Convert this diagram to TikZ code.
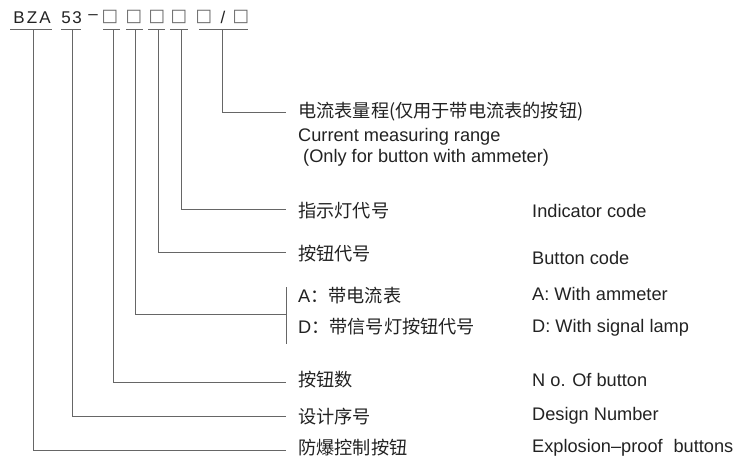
\documentclass[tikz,border=0pt]{standalone}
\usepackage{fontspec}
\setmainfont{Liberation Sans}
\newfontfamily\cjk{Noto Sans CJK SC}
\newfontfamily\dvsym{DejaVu Sans}
\definecolor{lncol}{HTML}{666666}
\definecolor{txt}{HTML}{222222}
\begin{document}
\begin{tikzpicture}[x=1pt,y=-1pt,
  ln/.style={draw=lncol, line width=0.8pt},
  cn/.style={font=\cjk\fontsize{18.2}{21}\selectfont, anchor=west, inner sep=0pt, text=txt},
  en/.style={font=\fontsize{18.2}{21}\selectfont, anchor=west, inner sep=0pt, text=txt},
  hd/.style={font=\fontsize{17}{19}\selectfont, inner sep=0pt, text=txt},
  sq/.style={font=\dvsym\fontsize{17.5}{19}\selectfont, inner sep=0pt, text=lncol}]
\useasboundingbox (0,0) rectangle (736,459);
% header characters
\node[hd] (hB) at (19,17.5) {B};
\node[hd] (hZ) at (32,17.5) {Z};
\node[hd] (hA) at (45,17.5) {A};
\node[hd] (h5) at (66,17.5) {5};
\node[hd] (h3) at (77,17.5) {3};
\node[hd] (hd1) at (93,17.5) {–};
\node[sq] (s1) at (110,17) {□};
\node[sq] (s2) at (134,17) {□};
\node[sq] (s3) at (157,17) {□};
\node[sq] (s4) at (179,17) {□};
\node[sq] (s5) at (204,17) {□};
\node[hd] (hsl) at (223,17.5) {/};
\node[sq] (s6) at (241,17) {□};
% underlines
\coordinate (a1) at (10,29); \coordinate (b1) at (52,29);
\coordinate (a2) at (61,29); \coordinate (b2) at (81,29);
\coordinate (a3) at (103,29); \coordinate (b3) at (120,29);
\coordinate (a4) at (126,29); \coordinate (b4) at (143,29);
\coordinate (a5) at (148,29); \coordinate (b5) at (165,29);
\coordinate (a6) at (170,29); \coordinate (b6) at (188,29);
\coordinate (a7) at (199,29); \coordinate (b7) at (248,29);
\foreach \i in {1,...,7} {\draw[ln] (a\i) -- (b\i);}
% field roots
\coordinate (f1) at (33,29);
\coordinate (f2) at (72,29);
\coordinate (f3) at (113,29);
\coordinate (f4) at (135,29);
\coordinate (f5) at (158,29);
\coordinate (f6) at (181,29);
\coordinate (f7) at (222,29);
% line ends
\coordinate (e7) at (286,112);
\coordinate (e6) at (286,209);
\coordinate (e5) at (286,252);
\coordinate (e4) at (286,314);
\coordinate (e3) at (286,382);
\coordinate (e2) at (286,416);
\coordinate (e1) at (286,450);
\coordinate (bt) at (286,287);
\coordinate (bb) at (286,344);
\foreach \i in {1,...,7} {\draw[ln] (f\i) |- (e\i);}
\draw[ln] (bt) -- (bb);
% labels
\node[cn] (c7) at (298,112) {电流表量程(仅用于带电流表的按钮)};
\node[en] (g7a) at (298,137) {Current measuring range};
\node[en] (g7b) at (303,158) {(Only for button with ammeter)};
\node[cn] (c6) at (298,211) {指示灯代号};
\node[en] (g6) at (532,211) {Indicator code};
\node[cn] (c5) at (298,254) {按钮代号};
\node[en] (g5) at (532,258) {Button code};
\node[cn] (c4a) at (298,296) {{\normalfont A}：带电流表};
\node[cn] (c4b) at (298,327) {{\normalfont D}：带信号灯按钮代号};
\node[en] (g4a) at (532,294) {A: With ammeter};
\node[en] (g4b) at (532,328) {D: With signal lamp};
\node[cn] (c3) at (298,380) {按钮数};
\node[en] (g3) at (532,380) {N o. Of button};
\node[cn] (c2) at (298,417) {设计序号};
\node[en] (g2) at (532,416) {Design Number};
\node[cn] (c1) at (298,448) {防爆控制按钮};
\node[en] (g1) at (532,448) {Explosion–proof\hspace{0.6em}buttons};
\end{tikzpicture}
\end{document}
